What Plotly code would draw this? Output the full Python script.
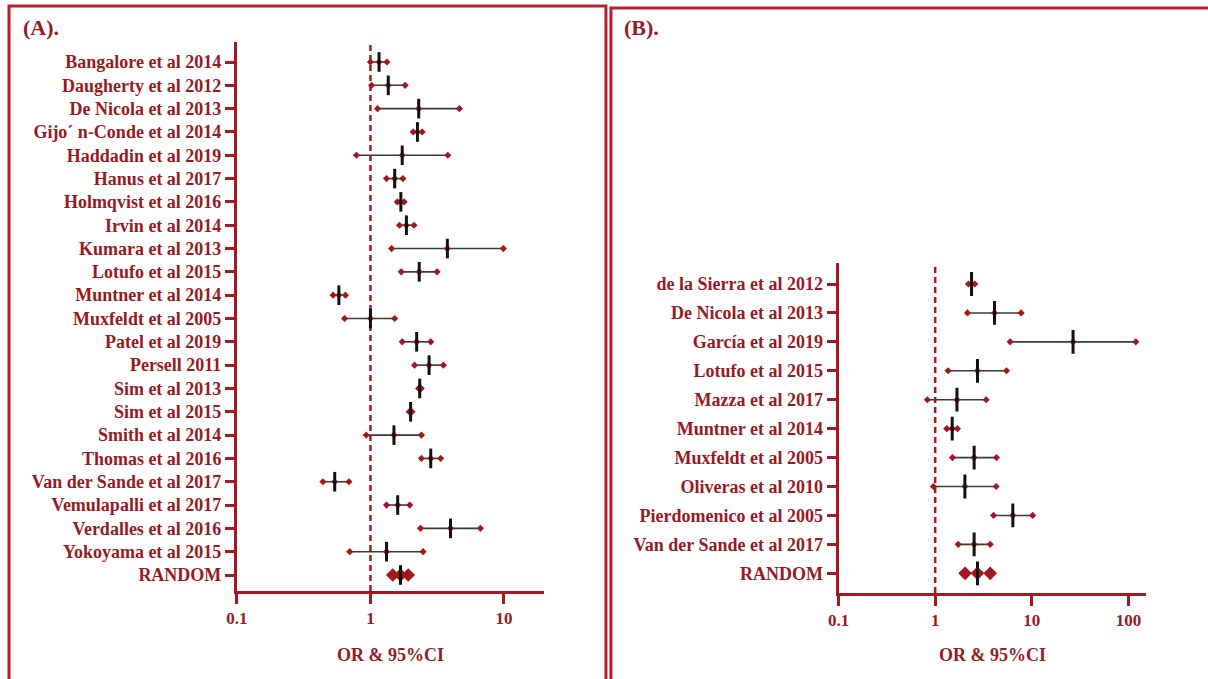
import plotly.graph_objects as go

# ---------------- Panel A ----------------
studies_a = [
    "Bangalore et al 2014", "Daugherty et al 2012", "De Nicola et al 2013",
    "Gijo´ n-Conde et al 2014", "Haddadin et al 2019", "Hanus et al 2017",
    "Holmqvist et al 2016", "Irvin et al 2014", "Kumara et al 2013",
    "Lotufo et al 2015", "Muntner et al 2014", "Muxfeldt et al 2005",
    "Patel et al 2019", "Persell 2011", "Sim et al 2013", "Sim et al 2015",
    "Smith et al 2014", "Thomas et al 2016", "Van der Sande et al 2017",
    "Vemulapalli et al 2017", "Verdalles et al 2016", "Yokoyama et al 2015",
]
or_a = [1.16, 1.36, 2.30, 2.25, 1.73, 1.52, 1.69, 1.86, 3.77, 2.32, 0.58,
        1.00, 2.22, 2.75, 2.34, 2.00, 1.50, 2.83, 0.54, 1.60, 3.98, 1.32]
lo_a = [1.00, 1.02, 1.13, 2.09, 0.785, 1.32, 1.59, 1.65, 1.44, 1.70, 0.525,
        0.64, 1.73, 2.14, 2.30, 1.95, 0.93, 2.41, 0.44, 1.32, 2.37, 0.70]
hi_a = [1.33, 1.82, 4.64, 2.44, 3.80, 1.75, 1.79, 2.12, 9.90, 3.16, 0.65,
        1.52, 2.83, 3.52, 2.40, 2.05, 2.41, 3.36, 0.69, 1.97, 6.67, 2.48]
pooled_a = {"label": "RANDOM", "or": 1.68, "lo": 1.47, "hi": 1.92}

# ---------------- Panel B ----------------
studies_b = [
    "de la Sierra et al 2012", "De Nicola et al 2013", "García et al 2019",
    "Lotufo et al 2015", "Mazza et al 2017", "Muntner et al 2014",
    "Muxfeldt et al 2005", "Oliveras et al 2010", "Pierdomenico et al 2005",
    "Van der Sande et al 2017",
]
or_b = [2.38, 4.11, 26.7, 2.74, 1.68, 1.50, 2.53, 2.03, 6.36, 2.53]
lo_b = [2.21, 2.16, 5.97, 1.36, 0.83, 1.32, 1.51, 0.96, 4.02, 1.73]
hi_b = [2.57, 7.76, 119.0, 5.47, 3.37, 1.70, 4.31, 4.28, 10.2, 3.71]
pooled_b = {"label": "RANDOM", "or": 2.74, "lo": 2.04, "hi": 3.71}

x_ticks_a = [0.1, 1, 10]
x_ticks_b = [0.1, 1, 10, 100]

TEXT_RED = "#981a1f"
AXIS_RED = "#a51a20"
MARK_RED = "#a3161c"
BORDER_RED = "#b3222a"
FONT = "Liberation Serif"

W, H = 1208, 679

fig = go.Figure()


def add_forest(names, ors, los, his, pooled, xa, ya, tick_h):
    n = len(names)
    ys = list(range(n))
    # confidence interval whiskers
    lx, ly = [], []
    for y, lo, hi in zip(ys, los, his):
        lx += [lo, hi, None]
        ly += [y, y, None]
    fig.add_trace(go.Scatter(
        x=lx, y=ly, mode="lines", xaxis=xa, yaxis=ya,
        line=dict(color="#3a3a3a", width=1.6), hoverinfo="skip",
        showlegend=False))
    # red diamonds at CI ends and point estimate
    dx = list(los) + list(ors) + list(his)
    dy = ys * 3
    fig.add_trace(go.Scatter(
        x=dx, y=dy, mode="markers", xaxis=xa, yaxis=ya,
        marker=dict(symbol="diamond", size=5.5, color=MARK_RED),
        showlegend=False))
    # pooled estimate
    py = n
    fig.add_trace(go.Scatter(
        x=[pooled["lo"], pooled["or"], pooled["hi"]], y=[py] * 3,
        mode="markers", xaxis=xa, yaxis=ya,
        marker=dict(symbol="diamond", size=10.5, color=MARK_RED),
        showlegend=False))
    # black vertical ticks at point estimates
    fig.add_trace(go.Scatter(
        x=list(ors) + [pooled["or"]], y=ys + [py], mode="markers",
        xaxis=xa, yaxis=ya,
        marker=dict(symbol="line-ns", size=tick_h,
                    line=dict(color="#111111", width=3)),
        showlegend=False))


add_forest(studies_a, or_a, lo_a, hi_a, pooled_a, "x", "y", 14)
add_forest(studies_b, or_b, lo_b, hi_b, pooled_b, "x2", "y2", 17)


def hx(x):
    # horizontal pixel -> layout pixel (page offset of the rendered figure)
    return (x - 10) / 0.991


# panel geometry (pixels)
ax_a = dict(x0=236, x1=543, y_bot=591, y_top=42)
ax_b = dict(x0=837.6, x1=1145, y_bot=593, y_top=263)


def xdom(g):
    return [hx(g["x0"]) / W, hx(g["x1"]) / W]


def ydom(g):
    return [(H - g["y_bot"]) / H, (H - g["y_top"]) / H]


xcommon = dict(
    type="log", showline=True, linecolor=AXIS_RED, linewidth=3,
    ticks="outside", ticklen=10, tickwidth=3, tickcolor=AXIS_RED,
    showgrid=False, zeroline=False, ticklabelstandoff=0,
    tickfont=dict(family=FONT, size=17, color=TEXT_RED, weight="bold"),
)
ycommon = dict(
    showline=True, linecolor=AXIS_RED, linewidth=3,
    ticks="outside", ticklen=9, tickwidth=3, tickcolor=AXIS_RED,
    showgrid=False, zeroline=False,
    tickfont=dict(family=FONT, size=18, color=TEXT_RED, weight="bold"),
)

na = len(studies_a)
nb = len(studies_b)
sp_a = (575 - 62) / na
sp_b = (573.3 - 284) / nb

fig.update_layout(
    width=W, height=H, margin=dict(l=0, r=0, t=0, b=0),
    paper_bgcolor="white", plot_bgcolor="white",
    xaxis=dict(xcommon, domain=xdom(ax_a), range=[-1, 1.30],
               tickvals=x_ticks_a, ticktext=[str(v) for v in x_ticks_a],
               anchor="y"),
    yaxis=dict(ycommon, domain=ydom(ax_a),
               range=[na + (591 - 575) / sp_a, -(62 - 42) / sp_a],
               tickvals=list(range(na + 1)),
               ticktext=studies_a + [pooled_a["label"]], anchor="x"),
    xaxis2=dict(xcommon, domain=xdom(ax_b), range=[-1, 2.18],
                tickvals=x_ticks_b, ticktext=[str(v) for v in x_ticks_b],
                anchor="y2"),
    yaxis2=dict(ycommon, domain=ydom(ax_b),
                range=[nb + (593 - 573.3) / sp_b, -(284 - 263) / sp_b],
                tickvals=list(range(nb + 1)),
                ticktext=studies_b + [pooled_b["label"]], anchor="x2"),
)

# reference line at OR = 1
for xr, yr in (("x", "y domain"), ("x2", "y2 domain")):
    fig.add_shape(type="line", xref=xr, yref=yr, x0=1, x1=1, y0=0, y1=1,
                  line=dict(color=AXIS_RED, width=2.5, dash="6px,4px"),
                  layer="below")

# panel frames
fig.add_shape(type="rect", xref="paper", yref="paper",
              x0=hx(8) / W, x1=hx(605) / W, y0=-0.05, y1=(H - 6) / H,
              line=dict(color=BORDER_RED, width=3))
fig.add_shape(type="rect", xref="paper", yref="paper",
              x0=hx(610) / W, x1=1.05, y0=-0.05, y1=(H - 8) / H,
              line=dict(color=BORDER_RED, width=3))

# panel letters and axis titles
for txt, px in (("(A).", 20), ("(B).", 621)):
    fig.add_annotation(text=txt, xref="paper", yref="paper",
                       x=hx(px) / W, y=(H - 28) / H, xanchor="left",
                       yanchor="middle", showarrow=False,
                       font=dict(family=FONT, size=22, color=TEXT_RED,
                                 weight="bold"))
for g in (ax_a, ax_b):
    fig.add_annotation(text="OR & 95%CI", xref="paper", yref="paper",
                       x=hx((g["x0"] + g["x1"]) / 2) / W, y=(H - 655) / H,
                       xanchor="center", yanchor="middle", showarrow=False,
                       font=dict(family=FONT, size=18, color=TEXT_RED,
                                 weight="bold"))

fig.write_html("out.html")
